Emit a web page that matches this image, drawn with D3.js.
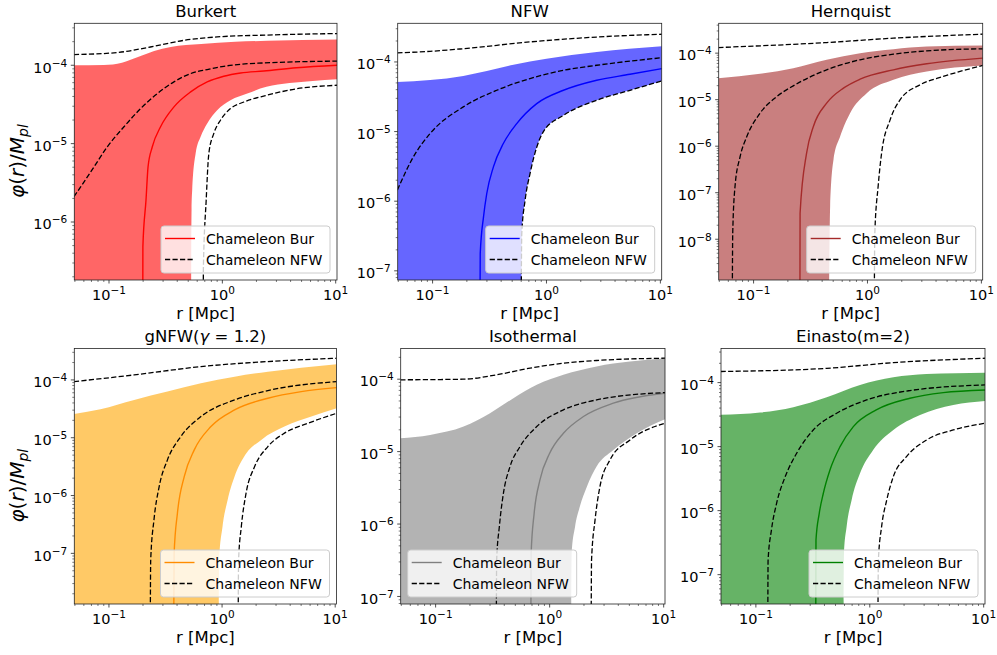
<!DOCTYPE html>
<html><head><meta charset="utf-8">
<script src="https://cdn.jsdelivr.net/npm/d3@7"></script>
<style>
body{margin:0;background:#fff}
svg{display:block}
text{font-family:"DejaVu Sans",sans-serif;fill:#000}
</style>
</head><body>
<svg id="c" width="997" height="655"></svg>
<script>
// ---------- data ----------
const panelTitles = ["Burkert","NFW","Hernquist","gNFW","Isothermal","Einasto(m=2)"];
const legendLabels = ["Chameleon Bur","Chameleon NFW"];
const xLimits = [0.0494, 10.27];
const xTickValues = [0.1, 1, 10];
const yLimits = [[1.82e-7,3.43e-4],[7.38e-8,3.59e-4],[1.33e-9,4.38e-4],[1.33e-8,3.51e-4],[7.87e-8,2.66e-4],[3.48e-8,3.42e-4]];
const fillColors = ["red","blue","brown","orange","gray","green"];
const lineColors = ["red","blue","brown","darkorange","gray","green"];
const legendCorners = ["right","right","right","right","left","right"];

// Burkert
const burUpper = [[0.049,1.0e-4],[0.09,1.01e-4],[0.13,1.08e-4],[0.18,1.27e-4],[0.25,1.52e-4],[0.35,1.71e-4],[0.65,1.87e-4],[1.3,1.99e-4],[2.5,2.05e-4],[10.3,2.13e-4]];
const burLower = [[0.049,1e-12],[0.515,1e-12],[0.535,1.42e-6],[0.542,2.56e-6],[0.581,7.5e-6],[0.643,1.22e-5],[0.735,1.81e-5],[0.9,2.67e-5],[1.18,3.58e-5],[1.66,4.36e-5],[2.45,5.3e-5],[6.27,6.31e-5],[10.3,6.64e-5]];
const burSolid = [[0.196,1e-12],[0.199,4.85e-7],[0.212,1.9e-6],[0.221,5.06e-6],[0.241,9.12e-6],[0.285,1.64e-5],[0.374,2.94e-5],[0.525,4.57e-5],[0.735,6.12e-5],[1.03,7.24e-5],[1.45,7.98e-5],[2.32,8.45e-5],[4.5,9.3e-5],[10.3,1.0e-4]];
const burDashHigh = [[0.049,1.37e-4],[0.117,1.45e-4],[0.232,1.71e-4],[0.459,2.08e-4],[0.902,2.3e-4],[2.50,2.43e-4],[10.3,2.54e-4]];
const burDashMid = [[0.049,2.1e-6],[0.0564,2.82e-6],[0.0738,5.06e-6],[0.0966,9.12e-6],[0.1355,1.64e-5],[0.19,2.8e-5],[0.267,4.36e-5],[0.374,6.14e-5],[0.525,7.83e-5],[0.735,8.81e-5],[1.03,9.7e-5],[1.45,1.03e-4],[2.32,1.07e-4],[10.3,1.13e-4]];
const burDashLow = [[0.675,1e-12],[0.68,2.5e-7],[0.72,1.9e-6],[0.76,7.5e-6],[0.841,1.35e-5],[0.964,2.0e-5],[1.18,2.8e-5],[1.55,3.4e-5],[2.4,4.1e-5],[4.51,5.0e-5],[10.3,5.56e-5]];

// NFW
const nfwUpper = [[0.049,5.16e-5],[0.095,5.5e-5],[0.186,6.3e-5],[0.299,7.4e-5],[0.513,9.1e-5],[1.00,1.11e-4],[2.76,1.39e-4],[10.3,1.68e-4]];
const nfwLower = [[0.049,1e-12],[0.587,1e-12],[0.607,3.44e-7],[0.649,1.03e-6],[0.717,2.49e-6],[0.937,9.9e-6],[1.41,1.71e-5],[2.76,2.82e-5],[5.41,3.92e-5],[10.3,5.34e-5]];
const nfwSolid = [[0.253,1e-12],[0.262,1.77e-7],[0.280,5.96e-7],[0.299,1.29e-6],[0.342,3.11e-6],[0.418,6.73e-6],[0.548,1.3e-5],[0.821,2.52e-5],[1.41,3.92e-5],[2.76,5.46e-5],[5.41,6.65e-5],[10.3,8.02e-5]];
const nfwDashHigh = [[0.049,1.35e-4],[0.095,1.42e-4],[0.186,1.55e-4],[0.717,1.94e-4],[2.76,2.28e-4],[10.3,2.5e-4]];
const nfwDashMid = [[0.049,1.44e-6],[0.0678,4.33e-6],[0.095,9.35e-6],[0.186,2.26e-5],[0.366,3.92e-5],[0.717,5.77e-5],[1.41,7.59e-5],[2.76,8.96e-5],[10.3,1.15e-4]];
const nfwDashLow = [[0.587,1e-12],[0.607,3.44e-7],[0.649,1.03e-6],[0.717,2.49e-6],[0.937,9.9e-6],[1.41,1.71e-5],[2.76,2.82e-5],[5.41,3.92e-5],[10.3,5.34e-5]];

// Hernquist
const herUpper = [[0.049,2.9e-5],[0.114,3.6e-5],[0.223,4.76e-5],[0.438,7.2e-5],[0.861,1.0e-4],[1.69,1.22e-4],[3.31,1.39e-4],[10.3,1.46e-4]];
const herLower = [[0.049,1e-14],[0.438,1e-14],[0.470,5.04e-8],[0.503,5.09e-7],[0.575,1.61e-6],[0.703,5.13e-6],[0.985,1.38e-5],[1.69,2.67e-5],[3.31,4.03e-5],[10.3,5.43e-5]];
const herSolid = [[0.253,1e-14],[0.256,3.62e-8],[0.292,7.08e-7],[0.335,2.65e-6],[0.438,8.41e-6],[0.615,1.77e-5],[0.861,2.76e-5],[1.69,4.38e-5],[3.31,5.9e-5],[10.3,7.8e-5]];
const herDashHigh = [[0.049,1.32e-4],[0.438,1.69e-4],[1.69,2.1e-4],[10.3,2.56e-4]];
const herDashMid = [[0.0642,1e-14],[0.0656,1.35e-8],[0.0687,1.36e-7],[0.0762,6.0e-7],[0.0872,1.61e-6],[0.114,5.13e-6],[0.160,1.17e-5],[0.223,1.98e-5],[0.438,4.38e-5],[0.861,7.2e-5],[1.69,9.5e-5],[3.31,1.12e-4],[10.3,1.24e-4]];
const herDashLow = [[1.13,1e-14],[1.16,1.35e-8],[1.24,1.36e-7],[1.33,7.08e-7],[1.58,3.68e-6],[1.93,9.9e-6],[2.89,2.08e-5],[4.63,3.15e-5],[10.3,5.43e-5]];

// gNFW (gamma = 1.2)
const gnfUpper = [[0.049,2.58e-5],[0.0841,3.11e-5],[0.167,4.51e-5],[0.329,6.28e-5],[0.650,8.75e-5],[1.29,1.14e-4],[2.54,1.39e-4],[5.01,1.63e-4],[10.3,1.87e-4]];
const gnfLower = [[0.049,1e-12],[0.912,1e-12],[0.944,7.73e-8],[1.01,2.91e-7],[1.12,8.41e-7],[1.29,2.13e-6],[1.57,4.72e-6],[2.22,9.18e-6],[3.56,1.56e-5],[6.16,2.32e-5],[10.3,3.24e-5]];
const gnfSolid = [[0.364,1e-12],[0.377,1.01e-7],[0.403,4.95e-7],[0.463,2.13e-6],[0.568,6.17e-6],[0.797,1.56e-5],[1.29,3.03e-5],[2.54,4.82e-5],[5.01,6.28e-5],[10.3,7.37e-5]];
const gnfDashHigh = [[0.049,9.35e-5],[0.167,1.22e-4],[0.650,1.7e-4],[2.54,2.08e-4],[10.3,2.37e-4]];
const gnfDashMid = [[0.229,1e-12],[0.234,7.73e-8],[0.250,3.79e-7],[0.278,1.43e-6],[0.329,4.14e-6],[0.432,1.05e-5],[0.650,2.32e-5],[1.29,4.51e-5],[2.54,6.54e-5],[10.3,9.35e-5]];
const gnfDashLow = [[1.37,1e-12],[1.40,7.73e-8],[1.48,2.91e-7],[1.63,1.1e-6],[1.94,3.17e-6],[2.54,7.03e-6],[3.56,1.2e-5],[5.75,1.78e-5],[10.3,2.65e-5]];

// Isothermal
const isoUpper = [[0.049,1.53e-5],[0.0894,1.7e-5],[0.176,2.22e-5],[0.300,3.39e-5],[0.481,5.46e-5],[0.771,8.35e-5],[1.32,1.15e-4],[2.58,1.5e-4],[5.07,1.75e-4],[10.3,1.95e-4]];
const isoLower = [[0.049,1e-12],[1.50,1e-12],[1.56,3.93e-7],[1.67,9.18e-7],[1.84,1.74e-6],[2.12,3.28e-6],[2.58,6.21e-6],[3.62,1.05e-5],[5.80,1.79e-5],[10.3,2.8e-5]];
const isoSolid = [[0.666,1e-12],[0.688,3.93e-7],[0.731,1.4e-6],[0.822,4.06e-6],[1.00,9.48e-6],[1.32,1.79e-5],[1.98,3.05e-5],[3.62,4.66e-5],[10.3,6.4e-5]];
const isoDashHigh = [[0.049,9.8e-5],[0.176,1.0e-4],[0.343,1.15e-4],[0.674,1.42e-4],[1.32,1.66e-4],[2.58,1.81e-4],[10.3,1.95e-4]];
const isoDashMid = [[0.336,1e-12],[0.343,3.18e-7],[0.362,9.18e-7],[0.393,2.65e-6],[0.449,6.21e-6],[0.549,1.17e-5],[0.771,2.22e-5],[1.32,3.77e-5],[2.58,5.18e-5],[10.3,6.54e-5]];
const isoDashLow = [[2.28,1e-12],[2.33,3.18e-7],[2.50,1.13e-6],[2.76,3.28e-6],[3.38,7.67e-6],[5.07,1.45e-5],[10.3,2.46e-5]];

// Einasto (m=2)
const einUpper = [[0.049,3.13e-5],[0.109,3.4e-5],[0.213,4.12e-5],[0.419,5.9e-5],[0.821,9.2e-5],[1.61,1.21e-4],[3.15,1.36e-4],[10.3,1.43e-4]];
const einLower = [[0.049,1e-12],[0.578,1e-12],[0.594,2.15e-7],[0.626,5.62e-7],[0.693,1.47e-6],[0.821,3.83e-6],[1.07,8.87e-6],[1.61,1.82e-5],[2.76,3.13e-5],[5.41,4.48e-5],[10.3,5.18e-5]];
const einSolid = [[0.330,1e-12],[0.337,3.48e-7],[0.360,9.08e-7],[0.391,1.87e-6],[0.447,4.31e-6],[0.548,1e-5],[0.717,2.05e-5],[1.14,3.74e-5],[2.25,5.69e-5],[4.42,6.98e-5],[10.3,7.68e-5]];
const einDashHigh = [[0.049,1.49e-4],[0.419,1.67e-4],[1.61,2.05e-4],[10.3,2.4e-4]];
const einDashMid = [[0.126,1e-12],[0.128,1.69e-7],[0.137,4.99e-7],[0.152,1.3e-6],[0.181,3.4e-6],[0.228,7.87e-6],[0.319,1.82e-5],[0.512,3.32e-5],[0.938,5.36e-5],[2.25,7.5e-5],[10.3,9.2e-5]];
const einDashLow = [[1.16,1e-12],[1.19,1.69e-7],[1.27,5.62e-7],[1.41,1.47e-6],[1.61,3.4e-6],[2.10,6.98e-6],[3.15,1.27e-5],[5.41,1.82e-5],[10.3,2.32e-5]];

const panelSeries = [
  {upper:burUpper, lower:burLower, solid:burSolid, dashed:[burDashHigh,burDashMid,burDashLow]},
  {upper:nfwUpper, lower:nfwLower, solid:nfwSolid, dashed:[nfwDashHigh,nfwDashMid,nfwDashLow]},
  {upper:herUpper, lower:herLower, solid:herSolid, dashed:[herDashHigh,herDashMid,herDashLow]},
  {upper:gnfUpper, lower:gnfLower, solid:gnfSolid, dashed:[gnfDashHigh,gnfDashMid,gnfDashLow]},
  {upper:isoUpper, lower:isoLower, solid:isoSolid, dashed:[isoDashHigh,isoDashMid,isoDashLow]},
  {upper:einUpper, lower:einLower, solid:einSolid, dashed:[einDashHigh,einDashMid,einDashLow]}
];

// ---------- layout ----------
const boxes = [
  {l:74.3, r:337,   t:23.3,  b:280},
  {l:397.7,r:661.7, t:23.3,  b:280},
  {l:718.7,r:982.7, t:23.3,  b:280},
  {l:74.3, r:336.5, t:348.4, b:604},
  {l:400.7,r:665,   t:348.4, b:604},
  {l:721,  r:985,   t:348.4, b:604}
];

const svg = d3.select("#c");
const defs = svg.append("defs");
const sup = s => s.replace("-", "\u2212");

boxes.forEach((p, i) => {
  const x = d3.scaleLog().domain(xLimits).range([p.l, p.r]);
  const y = d3.scaleLog().domain(yLimits[i]).range([p.b, p.t]);
  const ser = panelSeries[i];

  defs.append("clipPath").attr("id", "clip" + i).append("rect")
    .attr("x", p.l).attr("y", p.t).attr("width", p.r - p.l).attr("height", p.b - p.t);

  const g = svg.append("g");
  const gc = g.append("g").attr("clip-path", `url(#clip${i})`);
  const line = d3.line().x(d => x(d[0])).y(d => y(d[1])).curve(d3.curveMonotoneX);

  // band
  const up = line(ser.upper);
  const lo = line(ser.lower.slice().reverse());
  gc.append("path").attr("d", up + "L" + lo.slice(1) + "Z")
    .attr("fill", fillColors[i]).attr("fill-opacity", 0.6).attr("stroke", "none");

  // solid
  gc.append("path").attr("d", line(ser.solid)).attr("fill", "none")
    .attr("stroke", lineColors[i]).attr("stroke-width", 1.4);

  // dashed
  ser.dashed.forEach(ds => {
    gc.append("path").attr("d", line(ds)).attr("fill", "none")
      .attr("stroke", "#000").attr("stroke-width", 1.3).attr("stroke-dasharray", "5.2,2.3");
  });

  // frame
  g.append("rect").attr("x", p.l).attr("y", p.t).attr("width", p.r - p.l).attr("height", p.b - p.t)
    .attr("fill", "none").attr("stroke", "#222").attr("stroke-width", 0.8);

  // x ticks
  const [x0, x1] = xLimits;
  for (let e = Math.floor(Math.log10(x0)); e <= Math.ceil(Math.log10(x1)); e++) {
    for (let k = 1; k <= 9; k++) {
      const v = k * Math.pow(10, e);
      if (v < x0 || v > x1) continue;
      const len = k === 1 ? 3.5 : 2;
      g.append("line").attr("x1", x(v)).attr("x2", x(v)).attr("y1", p.b).attr("y2", p.b + len)
        .attr("stroke", "#222").attr("stroke-width", k === 1 ? 0.8 : 0.6);
    }
  }
  xTickValues.forEach(v => {
    const t = g.append("text").attr("x", x(v)).attr("y", p.b + 20).attr("text-anchor", "middle")
      .attr("font-size", 14.5);
    t.append("tspan").text("10");
    t.append("tspan").attr("dy", -6).attr("font-size", 10.5).text(sup(String(Math.round(Math.log10(v)))));
  });

  // y ticks
  const [y0, y1] = yLimits[i];
  for (let e = Math.floor(Math.log10(y0)); e <= Math.ceil(Math.log10(y1)); e++) {
    for (let k = 1; k <= 9; k++) {
      const v = k * Math.pow(10, e);
      if (v < y0 || v > y1) continue;
      const len = k === 1 ? 3.5 : 2;
      g.append("line").attr("x1", p.l - len).attr("x2", p.l).attr("y1", y(v)).attr("y2", y(v))
        .attr("stroke", "#222").attr("stroke-width", k === 1 ? 0.8 : 0.6);
      if (k === 1) {
        const t = g.append("text").attr("x", p.l - 7).attr("y", y(v) + 7.3).attr("text-anchor", "end")
          .attr("font-size", 14.5);
        t.append("tspan").text("10");
        t.append("tspan").attr("dy", -6).attr("font-size", 10.5).text(sup(String(e)));
      }
    }
  }

  // title
  const cx = (p.l + p.r) / 2;
  const tt = g.append("text").attr("x", cx).attr("y", p.t - 6.5).attr("text-anchor", "middle").attr("font-size", 16.5);
  if (i === 3) {
    tt.append("tspan").text("gNFW(");
    tt.append("tspan").attr("font-style", "italic").text("\u03b3");
    tt.append("tspan").text(" = 1.2)");
  } else {
    tt.text(panelTitles[i]);
  }

  // x label
  g.append("text").attr("x", cx).attr("y", p.b + 39).attr("text-anchor", "middle").attr("font-size", 16.5).text("r [Mpc]");

  // y label
  if (i % 3 === 0) {
    const cy = (p.t + p.b) / 2 + 9.5;
    const yl = g.append("text").attr("transform", `translate(24,${cy}) rotate(-90)`).attr("text-anchor", "middle")
      .attr("font-size", 20);
    yl.append("tspan").attr("font-style", "italic").text("\u03c6");
    yl.append("tspan").text("(");
    yl.append("tspan").attr("font-style", "italic").text("r");
    yl.append("tspan").text(")/");
    yl.append("tspan").attr("font-style", "italic").text("M");
    yl.append("tspan").attr("font-style", "italic").attr("font-size", 14).attr("dy", 4).text("pl");
  }

  // legend
  const lw = 169, lh = 47;
  const lx = legendCorners[i] === "right" ? p.r - 7 - lw : p.l + 7;
  const ly = p.b - 7 - lh;
  const lg = g.append("g");
  lg.append("rect").attr("x", lx).attr("y", ly).attr("width", lw).attr("height", lh).attr("rx", 3)
    .attr("fill", "#fff").attr("fill-opacity", 0.8).attr("stroke", "#ccc").attr("stroke-width", 1);
  [[lineColors[i], null], ["#000", "5.2,2.3"]].forEach((s, j) => {
    const yy = ly + 12.5 + j * 21;
    const ln = lg.append("line").attr("x1", lx + 4).attr("x2", lx + 34).attr("y1", yy).attr("y2", yy)
      .attr("stroke", s[0]).attr("stroke-width", j === 0 ? 1.4 : 1.3);
    if (s[1]) ln.attr("stroke-dasharray", s[1]);
    lg.append("text").attr("x", lx + 45).attr("y", yy + 5).attr("font-size", 14).text(legendLabels[j]);
  });
});
</script>
</body></html>
